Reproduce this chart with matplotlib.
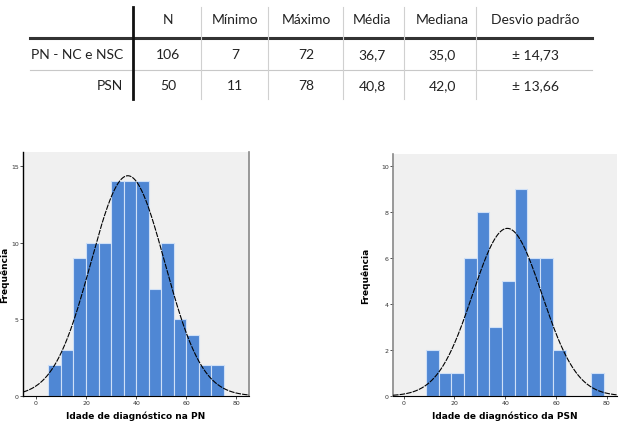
import numpy as np
import matplotlib
matplotlib.use("Agg")
import matplotlib.pyplot as plt
from matplotlib.lines import Line2D

W, H = 623, 427

# Table data
col_labels = ["N", "Mínimo", "Máximo", "Média", "Mediana", "Desvio padrão"]
row_labels = ["PN - NC e NSC", "PSN"]
table_rows = [
    ["106", "7", "72", "36,7", "35,0", "± 14,73"],
    ["50", "11", "78", "40,8", "42,0", "± 13,66"],
]

# Histogram data (PN)
pn_left_edges = [5, 10, 15, 20, 25, 30, 35, 40, 45, 50, 55, 60, 65, 70]
pn_counts = [2, 3, 9, 10, 10, 14, 14, 14, 7, 10, 5, 4, 2, 2]
pn_n, pn_mean, pn_sd = 106, 36.7, 14.73

# Histogram data (PSN)
psn_left_edges = [8.75, 13.75, 18.75, 23.75, 28.75, 33.75, 38.75, 43.75,
                  48.75, 53.75, 58.75, 63.75, 68.75, 73.75]
psn_counts = [2, 1, 1, 6, 8, 3, 5, 9, 6, 6, 2, 0, 0, 1]
psn_n, psn_mean, psn_sd = 50, 40.8, 13.66
bin_width = 5

BAR_COLOR = "#4f87d4"
BG = "#f0f0f0"

fig = plt.figure(figsize=(W / 100, H / 100), dpi=100)


def fx(x):
    return x / W


def fy(y):
    return 1 - y / H


# ---- table ----
tfont = ["Lato", "DejaVu Sans"]
col_x = [168, 235, 306, 372, 442, 535]
row_y = [55, 86]
for x, lab in zip(col_x, col_labels):
    fig.text(fx(x), fy(20), lab, ha="center", va="center", fontsize=10,
             family=tfont, color="#222222")
for ry, rlab, vals in zip(row_y, row_labels, table_rows):
    fig.text(fx(123), fy(ry), rlab, ha="right", va="center", fontsize=10,
             family=tfont, color="#222222")
    for x, v in zip(col_x, vals):
        fig.text(fx(x), fy(ry), v, ha="center", va="center", fontsize=10,
                 family=tfont, color="#222222")

fig.add_artist(Line2D([fx(30), fx(592)], [fy(39), fy(39)], color="#333333", lw=2.2))
fig.add_artist(Line2D([fx(30), fx(592)], [fy(71), fy(71)], color="#c8c8c8", lw=0.8))
fig.add_artist(Line2D([fx(133), fx(133)], [fy(8), fy(100)], color="#111111", lw=2.0))
for sx in [201, 268, 343, 404, 476]:
    fig.add_artist(Line2D([fx(sx), fx(sx)], [fy(8), fy(100)], color="#d0d0d0", lw=0.8))


# ---- histograms ----
def draw_hist(ax, edges, counts, n, mean, sd, xlabel, xlim, ylim, yticks):
    ax.set_facecolor(BG)
    ax.bar(edges, counts, width=bin_width, align="edge", color=BAR_COLOR,
           edgecolor="#cfe0f7", linewidth=0.8, zorder=2)
    xs = np.linspace(xlim[0], xlim[1], 300)
    ys = n * bin_width / (sd * np.sqrt(2 * np.pi)) * np.exp(-0.5 * ((xs - mean) / sd) ** 2)
    ax.plot(xs, ys, color="black", lw=0.8, linestyle=(0, (5, 1)), zorder=3)
    ax.set_xlim(xlim)
    ax.set_ylim(ylim)
    ax.set_xticks([0, 20, 40, 60, 80])
    ax.set_yticks(yticks)
    ax.tick_params(labelsize=4.5, length=2, width=0.6, pad=1, colors="#333333")
    ax.set_xlabel(xlabel, fontsize=6.5, fontweight="bold", labelpad=4)
    ax.set_ylabel("Frequência", fontsize=6.5, fontweight="bold")
    ax.spines["top"].set_visible(False)


ax1 = fig.add_axes([fx(23), fy(397), (249 - 23) / W, (397 - 153) / H])
draw_hist(ax1, pn_left_edges, pn_counts, pn_n, pn_mean, pn_sd,
          "Idade de diagnóstico na PN", (-5.1, 85), (0, 15.9), [0, 5, 10, 15])
ax1.spines["right"].set_color("#888888")
ax1.spines["right"].set_linewidth(1.2)
ax1.spines["left"].set_linewidth(1.0)
ax1.yaxis.set_label_coords(-0.062, 0.5)

ax2 = fig.add_axes([fx(393), fy(397), (617 - 393) / W, (397 - 155) / H])
draw_hist(ax2, psn_left_edges, psn_counts, psn_n, psn_mean, psn_sd,
          "Idade de diagnóstico da PSN", (-4.2, 84), (0, 10.54), [0, 2, 4, 6, 8, 10])
ax2.spines["right"].set_visible(False)
ax2.spines["left"].set_color("#888888")
ax2.spines["left"].set_linewidth(1.2)
ax2.yaxis.set_label_coords(-0.103, 0.5)

fig.savefig("out.png", dpi=100)
